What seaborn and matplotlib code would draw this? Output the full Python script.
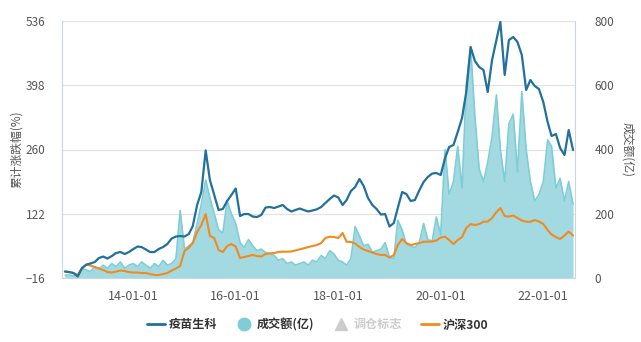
import numpy as np
import pandas as pd
import matplotlib
matplotlib.use("Agg")
import matplotlib.pyplot as plt
import matplotlib.dates as mdates
from matplotlib.lines import Line2D
import seaborn as sns

# Monthly observations, Sep 2012 - Aug 2022
start_month = "2012-09-01"
n_months = 120

# Cumulative return of the vaccine / bio-tech strategy (%)
vaccine = [
    -2.1, -3.2, -5.3, -12.8, 5.4, 12.9, 15.1, 18.3, 26.9, 30.1,
    25.8, 31.2, 37.7, 39.8, 35.5, 39.8, 46.2, 51.6, 50.5, 45.2,
    39.8, 39.8, 46.2, 50.5, 57.0, 68.8, 73.1, 74.2, 73.1, 78.5,
    95.6, 140.8, 168.7, 258.0, 194.5, 162.2, 130.0, 132.2, 149.4, 162.2,
    176.2, 117.1, 121.4, 121.4, 116.0, 115.0, 119.3, 135.4, 136.5, 134.3,
    137.5, 140.8, 132.2, 126.8, 130.0, 133.2, 130.0, 126.8, 129.0, 131.5,
    136.5, 145.1, 153.7, 161.2, 156.9, 140.8, 151.5, 170.8, 179.4, 196.6,
    181.6, 155.8, 140.8, 132.2, 120.3, 121.4, 94.6, 102.1, 134.3, 168.7,
    164.4, 149.4, 151.5, 171.9, 190.2, 200.9, 208.4, 209.5, 205.2, 241.6,
    265.4, 269.6, 297.5, 327.6, 383.5, 480.0, 450.0, 437.2, 430.7, 383.5,
    452.2, 495.2, 534.0, 420.0, 495.2, 501.6, 490.9, 463.0, 387.8, 409.3,
    396.4, 389.9, 362.0, 319.0, 289.0, 293.3, 263.2, 248.2, 301.8, 258.9,
]

# Cumulative return of the CSI 300 benchmark (%)
csi300 = [
    -2.1, -3.2, -5.3, -9.6, 5.4, 12.9, 10.8, 7.6, 4.4, 1.1,
    -3.2, -4.2, -2.1, 0.0, -1.0, -3.2, -4.2, -4.2, -5.3, -5.3,
    -7.5, -9.6, -9.6, -7.5, -5.3, 0.0, 4.4, 9.7, 41.9, 49.5,
    59.1, 82.8, 97.8, 121.4, 74.2, 69.9, 44.1, 39.8, 52.7, 57.0,
    51.6, 26.9, 29.1, 31.2, 33.4, 31.2, 30.1, 35.5, 37.0, 37.7,
    39.8, 40.5, 40.5, 40.9, 43.1, 45.6, 47.8, 50.5, 52.7, 54.8,
    59.1, 69.9, 72.7, 72.0, 69.9, 80.6, 61.9, 61.3, 58.0, 50.5,
    45.2, 41.9, 38.7, 35.5, 33.4, 33.4, 28.0, 33.4, 54.8, 67.7,
    59.1, 54.8, 57.0, 59.1, 61.9, 61.9, 62.3, 64.5, 70.9, 72.7,
    65.6, 57.0, 65.6, 72.0, 91.4, 99.9, 97.8, 99.9, 104.9, 105.3,
    112.8, 125.7, 134.3, 117.1, 116.0, 118.2, 112.8, 107.5, 104.9, 104.9,
    108.5, 105.3, 99.9, 87.1, 77.4, 72.0, 67.7, 75.2, 83.8, 75.2,
]

# Turnover (100 million CNY)
turnover = [
    8, 10, 6, 12, 30, 25, 20, 35, 28, 40,
    30, 45, 35, 50, 30, 40, 45, 35, 50, 40,
    30, 45, 35, 55, 40, 45, 60, 210, 90, 100,
    110, 170, 230, 305, 250, 200, 150, 140, 240, 200,
    170, 110, 95, 120, 100, 85, 90, 80, 75, 70,
    55, 60, 45, 50, 40, 45, 50, 40, 55, 50,
    70, 60, 85, 75, 55, 50, 40, 60, 160, 130,
    100, 105, 80, 85, 90, 110, 65, 60, 180, 150,
    105, 100, 95, 110, 170, 120, 115, 190, 135, 400,
    260, 300, 410, 280, 600, 720, 500, 340, 300, 360,
    440, 570, 400, 300, 480, 510, 330, 580, 400, 300,
    240, 260, 300, 430, 410, 280, 310, 240, 300, 230,
]

left_ticks = [-16, 122, 260, 398, 536]
right_ticks = [0, 200, 400, 600, 800]
date_ticks = ["2014-01-01", "2016-01-01", "2018-01-01", "2020-01-01", "2022-01-01"]

dates = pd.date_range(start_month, periods=n_months, freq="MS")
df = pd.DataFrame({"date": dates, "vaccine": vaccine, "csi300": csi300, "turnover": turnover})

sns.set_style("white")
plt.rcParams["font.family"] = ["Noto Sans CJK SC", "DejaVu Sans"]

BLUE = "#22709c"
ORANGE = "#f28a1e"
VOL_LINE = "#7fcdd7"
VOL_FILL = "#a3dae1"
SPINE = "#c9d5e3"
GRID = "#e3e3e3"
TXT = "#555555"

fig = plt.figure(figsize=(6.41, 3.42), dpi=100)
ax = fig.add_axes([62 / 641, 1 - 278 / 342, (575 - 62) / 641, (278 - 21) / 342])
ax2 = ax.twinx()

# turnover area on the secondary axis, kept underneath the return lines
ax2.fill_between(df["date"], 0, df["turnover"], color=VOL_FILL, linewidth=0, zorder=1)
sns.lineplot(data=df, x="date", y="turnover", ax=ax2, color=VOL_LINE, linewidth=1.2, zorder=2)
ax2.set_ylim(0, 800)
ax2.set_yticks(right_ticks)
ax2.yaxis.grid(True, color=GRID, linewidth=0.9)
ax2.set_axisbelow(True)

sns.lineplot(data=df, x="date", y="csi300", ax=ax, color=ORANGE, linewidth=1.5, zorder=3)
sns.lineplot(data=df, x="date", y="vaccine", ax=ax, color=BLUE, linewidth=1.6, zorder=4)
ax.set_ylim(-16, 536)
ax.set_yticks(left_ticks)
ax.set_zorder(ax2.get_zorder() + 1)
ax.patch.set_visible(False)

ax.set_xlim(pd.Timestamp("2012-08-11"), pd.Timestamp("2022-08-15"))
ax.set_xticks(pd.to_datetime(date_ticks))
ax.xaxis.set_major_formatter(mdates.DateFormatter("%y-%m-%d"))

for a in (ax, ax2):
    for side in ("left", "right", "bottom", "top"):
        a.spines[side].set_visible(False)
ax.spines["left"].set_visible(True)
ax.spines["left"].set_color(SPINE)
ax.spines["bottom"].set_visible(True)
ax.spines["bottom"].set_color(SPINE)
ax2.spines["right"].set_visible(True)
ax2.spines["right"].set_color(SPINE)

ax.tick_params(axis="x", length=5, color=SPINE, labelsize=9, labelcolor=TXT, pad=4)
ax.tick_params(axis="y", length=0, labelsize=8.5, labelcolor=TXT, pad=12)
ax2.tick_params(axis="y", length=0, labelsize=8.5, labelcolor=TXT, pad=14)

ax.set_xlabel("")
ax.set_ylabel("累计涨跌幅(%)", fontsize=8.5, color=TXT, labelpad=2)
ax2.set_ylabel("成交额(亿)", fontsize=8.5, color=TXT, rotation=270, labelpad=14)

handles = [
    Line2D([], [], color=BLUE, linewidth=2),
    Line2D([], [], color=VOL_LINE, marker="o", linestyle="none", markersize=9),
    Line2D([], [], color="#cccccc", marker="^", linestyle="none", markersize=8),
    Line2D([], [], color=ORANGE, linewidth=2),
]
labels = ["疫苗生科", "成交额(亿)", "调仓标志", "沪深300"]
leg = fig.legend(handles, labels, loc="center", bbox_to_anchor=(0.495, 0.05), ncol=4,
                 frameon=False, handlelength=1.5, handletextpad=0.3, columnspacing=1.5,
                 prop={"size": 8.7, "weight": "bold"})
for t, c in zip(leg.get_texts(), ["#333333", "#333333", "#cccccc", "#333333"]):
    t.set_color(c)

fig.savefig("out.png", dpi=100)
